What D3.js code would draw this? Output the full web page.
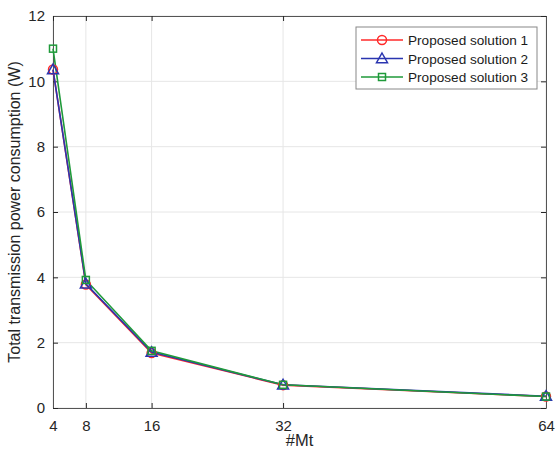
<!DOCTYPE html>
<html lang="en">
<head>
<meta charset="UTF-8">
<title>Total transmission power consumption</title>
<script src="https://d3js.org/d3.v7.min.js"></script>
<style>
    body { margin: 0; background: #fff; font-family: "Liberation Sans", Arial, sans-serif; }
    svg { display: block; }
    .tick text { font-size: 15px; fill: #262626; }
</style>
</head>
<body>
<svg id="chart" width="556" height="453"></svg>
<script>
    // data
    const mt = [4, 8, 16, 32, 64];
    const sol1 = [10.36, 3.78, 1.68, 0.70, 0.35];
    const sol2 = [10.36, 3.80, 1.71, 0.71, 0.36];
    const sol3 = [11.00, 3.92, 1.75, 0.71, 0.35];
    const seriesNames = ["Proposed solution 1", "Proposed solution 2", "Proposed solution 3"];
    const yTicks = [0, 2, 4, 6, 8, 10, 12];

    const series = [
        { name: seriesNames[0], values: sol1, color: "#ff2a2a", marker: "circle" },
        { name: seriesNames[1], values: sol2, color: "#2a35b0", marker: "triangle" },
        { name: seriesNames[2], values: sol3, color: "#1f9a3a", marker: "square" }
    ];

    const svg = d3.select("#chart");
    const margin = { left: 53, right: 10, top: 16, bottom: 45 };
    const W = 556, H = 453;
    const x = d3.scaleLinear().domain([4, 64]).range([margin.left, W - margin.right]);
    const y = d3.scaleLinear().domain([0, 12]).range([H - margin.bottom, margin.top]);

    // grid
    const grid = svg.append("g").attr("stroke", "#e6e6e6").attr("stroke-width", 1);
    grid.selectAll(".gx").data(mt).join("line")
        .attr("x1", d => x(d)).attr("x2", d => x(d))
        .attr("y1", y(0)).attr("y2", y(12));
    grid.selectAll(".gy").data(yTicks).join("line")
        .attr("x1", x(4)).attr("x2", x(64))
        .attr("y1", d => y(d)).attr("y2", d => y(d));

    // axes
    const axisColor = "#262626";
    const xAxis = svg.append("g").attr("transform", `translate(0,${y(0)})`)
        .call(d3.axisBottom(x).tickValues(mt).tickSizeInner(-5).tickSizeOuter(0).tickPadding(12));
    const yAxis = svg.append("g").attr("transform", `translate(${x(4)},0)`)
        .call(d3.axisLeft(y).tickValues(yTicks).tickSizeInner(-5).tickSizeOuter(0).tickPadding(8));
    const xTop = svg.append("g").attr("transform", `translate(0,${y(12)})`)
        .call(d3.axisTop(x).tickValues(mt).tickSizeInner(-5).tickSizeOuter(0).tickFormat(""));
    const yRight = svg.append("g").attr("transform", `translate(${x(64)},0)`)
        .call(d3.axisRight(y).tickValues(yTicks).tickSizeInner(-5).tickSizeOuter(0).tickFormat(""));
    [xAxis, yAxis, xTop, yRight].forEach(g => {
        g.selectAll("path, line").attr("stroke", axisColor);
        g.select(".domain").attr("stroke", "#555");
    });

    // lines
    const line = d3.line().x((d, i) => x(mt[i])).y(d => y(d));
    series.forEach(s => {
        svg.append("path").datum(s.values)
            .attr("fill", "none").attr("stroke", s.color).attr("stroke-width", 1.6)
            .attr("d", line);
    });

    function drawMarker(g, type, cx, cy, color) {
        if (type === "circle") {
            g.append("circle").attr("cx", cx).attr("cy", cy).attr("r", 4.5)
                .attr("fill", "none").attr("stroke", color).attr("stroke-width", 1.5);
        } else if (type === "triangle") {
            const s = 5.5;
            g.append("path")
                .attr("d", `M${cx},${cy - s}L${cx + s},${cy + s * 0.75}L${cx - s},${cy + s * 0.75}Z`)
                .attr("fill", "none").attr("stroke", color).attr("stroke-width", 1.5);
        } else {
            g.append("rect").attr("x", cx - 3.5).attr("y", cy - 3.5).attr("width", 7).attr("height", 7)
                .attr("fill", "none").attr("stroke", color).attr("stroke-width", 1.5);
        }
    }

    series.forEach(s => {
        const g = svg.append("g");
        s.values.forEach((v, i) => drawMarker(g, s.marker, x(mt[i]), y(v), s.color));
    });

    // axis labels
    svg.append("text").attr("x", (x(4) + x(64)) / 2).attr("y", 446)
        .attr("text-anchor", "middle").attr("font-size", 16.5).attr("fill", axisColor).text("#Mt");
    svg.append("text")
        .attr("transform", `translate(20,${(y(0) + y(12)) / 2}) rotate(-90)`)
        .attr("text-anchor", "middle").attr("font-size", 16).attr("fill", axisColor)
        .text("Total transmission power consumption (W)");

    // legend
    const lg = svg.append("g").attr("transform", "translate(356,27)");
    lg.append("rect").attr("width", 181).attr("height", 62)
        .attr("fill", "#fff").attr("stroke", "#888").attr("stroke-width", 1);
    series.forEach((s, i) => {
        const yy = 13 + i * 18.5;
        lg.append("line").attr("x1", 5).attr("x2", 47).attr("y1", yy).attr("y2", yy)
            .attr("stroke", s.color).attr("stroke-width", 1.6);
        drawMarker(lg, s.marker, 26, yy, s.color);
        lg.append("text").attr("x", 52).attr("y", yy + 5)
            .attr("font-size", 13.6).attr("fill", "#1a1a1a").text(s.name);
    });
</script>
</body>
</html>
